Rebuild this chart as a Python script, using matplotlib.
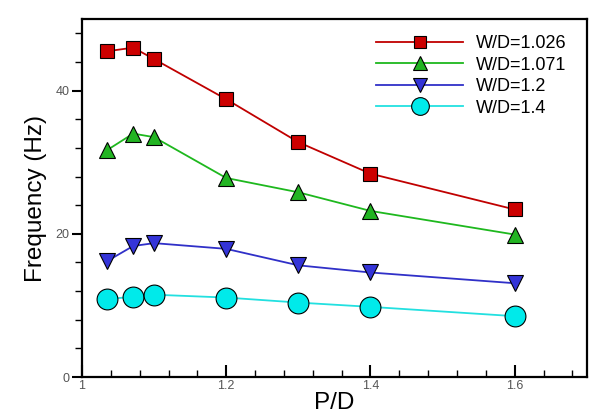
import matplotlib
matplotlib.use('Agg')
import matplotlib.pyplot as plt
from matplotlib.ticker import MultipleLocator

plt.rcParams['font.family'] = ['Liberation Sans', 'DejaVu Sans']

pd_ratio = [1.035, 1.071, 1.1, 1.2, 1.3, 1.4, 1.6]
freq_1026 = [45.5, 46.0, 44.4, 38.8, 32.8, 28.4, 23.4]
freq_1071 = [31.7, 34.0, 33.5, 27.8, 25.8, 23.2, 19.9]
freq_12 = [16.2, 18.3, 18.7, 17.9, 15.6, 14.6, 13.1]
freq_14 = [10.9, 11.2, 11.5, 11.1, 10.4, 9.8, 8.5]
labels = ['W/D=1.026', 'W/D=1.071', 'W/D=1.2', 'W/D=1.4']

fig = plt.figure(figsize=(6.05, 4.18), dpi=100)
ax = fig.add_axes([0.1355, 0.098, 0.8345, 0.8565])

ax.plot(pd_ratio, freq_1026, color='#c00000', marker='s', ms=10, mfc='#cc0000', mec='black', mew=0.8, lw=1.3, label=labels[0])
ax.plot(pd_ratio, freq_1071, color='#1eb81e', marker='^', ms=12, mfc='#22b422', mec='black', mew=0.8, lw=1.3, label=labels[1])
ax.plot(pd_ratio, freq_12, color='#3030c8', marker='v', ms=12, mfc='#3434d8', mec='black', mew=0.8, lw=1.3, label=labels[2])
ax.plot(pd_ratio, freq_14, color='#22e0e0', marker='o', ms=15, mfc='#00eaea', mec='black', mew=0.8, lw=1.3, label=labels[3])

ax.set_xlim(1, 1.7)
ax.set_ylim(0, 50)
ax.xaxis.set_minor_locator(MultipleLocator(0.04))
ax.yaxis.set_major_locator(MultipleLocator(20))
ax.yaxis.set_minor_locator(MultipleLocator(4))
ax.set_xticks([1, 1.2, 1.4, 1.6])
ax.set_xticklabels(['1', '1.2', '1.4', '1.6'])

ax.tick_params(axis='x', which='major', direction='in', length=9, width=1.5, labelsize=9, labelcolor='#555555', pad=2)
ax.tick_params(axis='x', which='minor', direction='in', length=5, width=1)
ax.tick_params(axis='y', which='major', direction='out', length=7, width=1.5, labelsize=9, labelcolor='#555555', pad=2)
ax.tick_params(axis='y', which='minor', direction='out', length=5, width=1)
for s in ax.spines.values():
    s.set_linewidth(1.6)

ax.set_xlabel('P/D', fontsize=17.5, labelpad=0)
ax.set_ylabel('Frequency (Hz)', fontsize=17.5, labelpad=6)

ax.legend(loc='upper right', bbox_to_anchor=(0.984, 0.99), frameon=False, fontsize=13,
          handlelength=4.8, labelspacing=0.25, handletextpad=0.7, borderaxespad=0.3,
          markerscale=0.85)

fig.savefig('out.png', dpi=100)
